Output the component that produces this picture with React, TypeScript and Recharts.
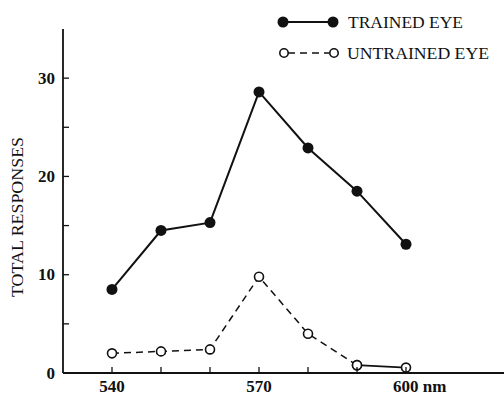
import { LineChart, Line, XAxis, YAxis } from 'recharts';

const wavelengths = [540, 550, 560, 570, 580, 590, 600];
const trained = [8.5, 14.5, 15.3, 28.6, 22.9, 18.5, 13.1];
const untrained = [2.0, 2.2, 2.4, 9.8, 4.0, 0.8, 0.55];
const xTicks = [540, 550, 560, 570, 580, 590, 600];
const xLabels: Record<number, string> = { 540: '540', 570: '570', 600: '600 nm' };
const yTicks = [0, 5, 10, 15, 20, 25, 30];
const yLabels: Record<number, string> = { 0: '0', 10: '10', 20: '20', 30: '30' };
const seriesNames = ['TRAINED EYE', 'UNTRAINED EYE'];
const yTitle = 'TOTAL RESPONSES';

const INK = '#111';
const FONT = '"Liberation Serif", "DejaVu Serif", serif';

// untrained: dashed up to 590, solid last segment
const rows = wavelengths.map((nm, i) => ({
  nm,
  trained: trained[i],
  untrainedDash: i < wavelengths.length - 1 ? untrained[i] : null,
  untrainedTail: i >= wavelengths.length - 2 ? untrained[i] : null,
}));

function XTick(props: any) {
  const { x, y, payload } = props;
  const label = xLabels[payload.value];
  return (
    <g>
      <line x1={x} y1={y} x2={x} y2={y - 6} stroke={INK} strokeWidth={1.3} />
      {label && (
        <text x={label.length > 3 ? x - 13 : x} y={y + 19} textAnchor={label.length > 3 ? 'start' : 'middle'}
          fontFamily={FONT} fontSize={17} fontWeight="bold" fill={INK}>
          {label}
        </text>
      )}
    </g>
  );
}

function YTick(props: any) {
  const { x, y, payload } = props;
  const label = yLabels[payload.value];
  return (
    <g>
      {payload.value !== 0 && <line x1={x} y1={y} x2={x + 6} y2={y} stroke={INK} strokeWidth={1.3} />}
      {label && (
        <text x={x - 8} y={y} textAnchor="end" dominantBaseline="central"
          fontFamily={FONT} fontSize={17} fontWeight="bold" fill={INK}>
          {label}
        </text>
      )}
    </g>
  );
}

function Overlay() {
  return (
    <svg width={504} height={397} style={{ position: 'absolute', left: 0, top: 0, pointerEvents: 'none' }}>
      <line x1={283} y1={22} x2={333} y2={22} stroke={INK} strokeWidth={2} />
      <circle cx={283} cy={22} r={5.5} fill={INK} />
      <circle cx={333} cy={22} r={5.5} fill={INK} />
      <text x={348} y={28} fontFamily={FONT} fontSize={16} fill={INK} textLength={115} lengthAdjust="spacingAndGlyphs">
        {seriesNames[0]}
      </text>
      <line x1={288} y1={53} x2={329} y2={53} stroke={INK} strokeWidth={1.6} strokeDasharray="7 5" />
      <circle cx={284} cy={53} r={4.2} fill="#fff" stroke={INK} strokeWidth={1.6} />
      <circle cx={334} cy={53} r={4.2} fill="#fff" stroke={INK} strokeWidth={1.6} />
      <text x={347} y={59} fontFamily={FONT} fontSize={16} fill={INK} textLength={142} lengthAdjust="spacingAndGlyphs">
        {seriesNames[1]}
      </text>
      <text x={0} y={0} transform="translate(23 217) rotate(-90)" textAnchor="middle"
        fontFamily={FONT} fontSize={16} fill={INK} textLength={160} lengthAdjust="spacingAndGlyphs">
        {yTitle}
      </text>
    </svg>
  );
}

export default function App() {
  return (
    <div style={{ position: 'absolute', left: 0, top: 0, width: 504, height: 397, background: '#fff' }}>
      <LineChart width={504} height={397} data={rows} margin={{ top: 29, right: 0, bottom: 0, left: 0 }}>
        <XAxis dataKey="nm" type="number" domain={[530, 620]} ticks={xTicks} height={24}
          axisLine={{ stroke: INK, strokeWidth: 1.8 }} tickLine={false} tickSize={0} tickMargin={0}
          tick={<XTick />} interval={0} allowDataOverflow />
        <YAxis type="number" domain={[0, 35]} ticks={yTicks} width={63}
          axisLine={{ stroke: INK, strokeWidth: 1.8 }} tickLine={false} tickSize={0} tickMargin={0}
          tick={<YTick />} interval={0} allowDataOverflow />
        <Line dataKey="untrainedDash" stroke={INK} strokeWidth={1.5} strokeDasharray="7 5"
          dot={{ r: 4.5, fill: '#fff', stroke: INK, strokeWidth: 1.6, strokeDasharray: '' }} isAnimationActive={false} connectNulls={false} />
        <Line dataKey="untrainedTail" stroke={INK} strokeWidth={1.8}
          dot={{ r: 4.5, fill: '#fff', stroke: INK, strokeWidth: 1.6 }} isAnimationActive={false} connectNulls={false} />
        <Line dataKey="trained" stroke={INK} strokeWidth={2}
          dot={{ r: 5.5, fill: INK, stroke: INK, strokeWidth: 0 }} isAnimationActive={false} />
      </LineChart>
      <Overlay />
    </div>
  );
}
